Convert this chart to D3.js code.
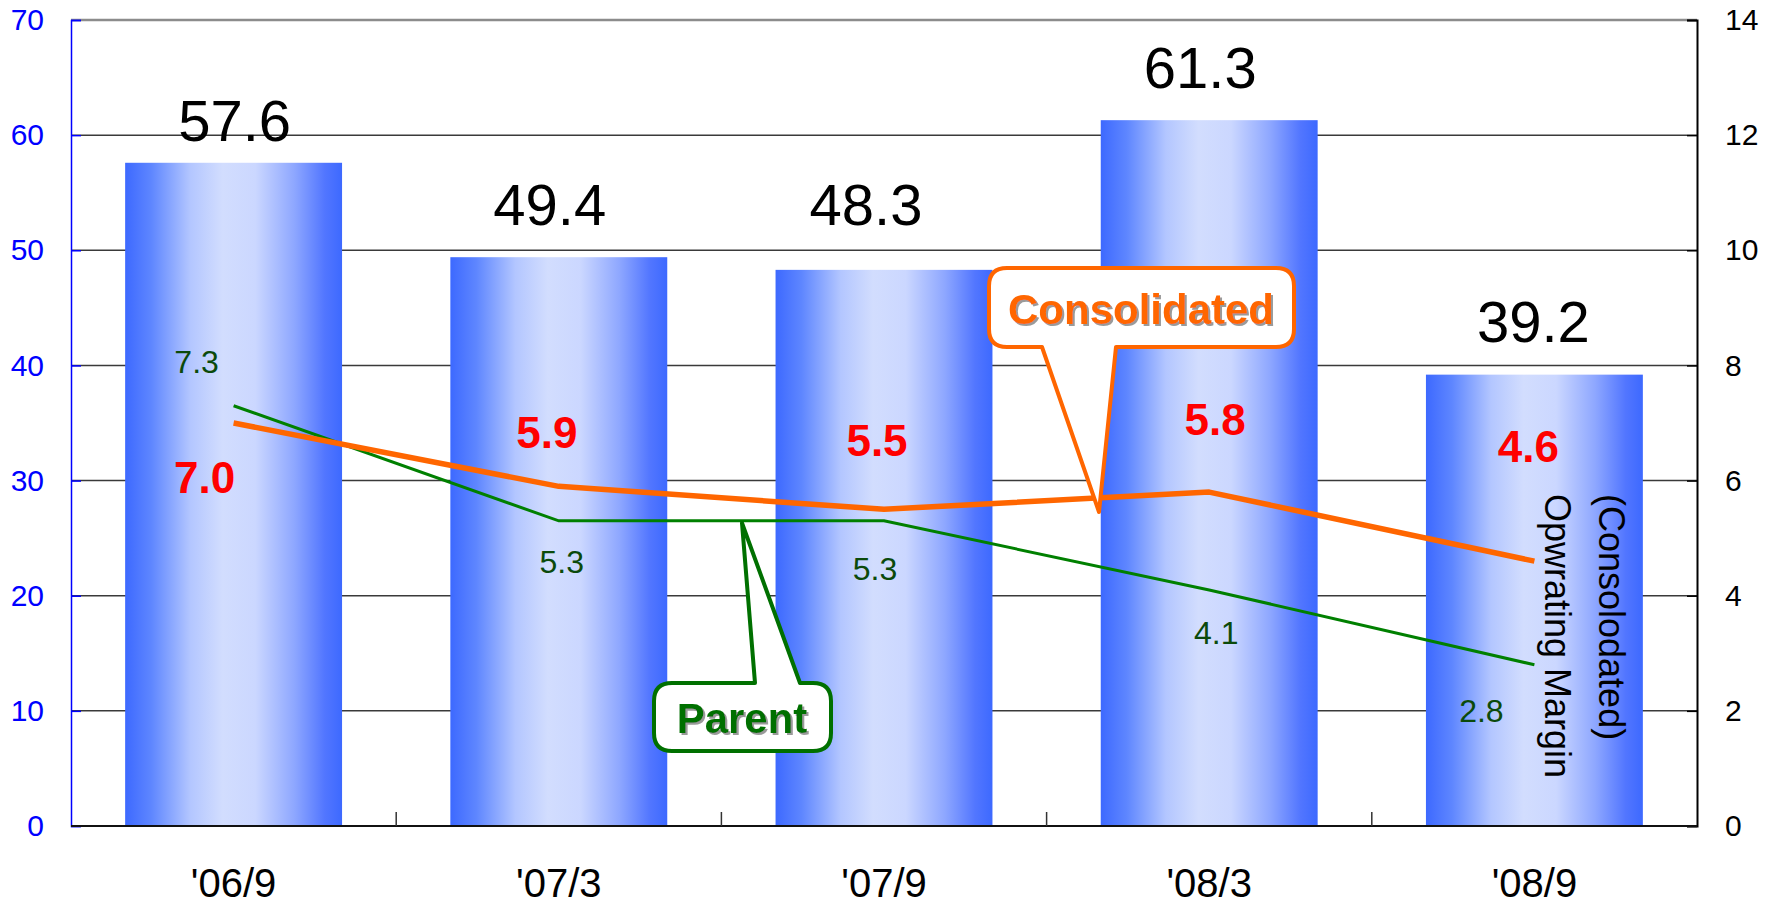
<!DOCTYPE html>
<html><head><meta charset="utf-8">
<script src="https://cdn.jsdelivr.net/npm/d3@7"></script>
<style>html,body{margin:0;padding:0;background:#fff;}svg{display:block;font-family:"Liberation Sans",Arial,sans-serif;}</style>
</head><body>
<svg id="c" width="1782" height="906"></svg>
<script>
const categories = ["'06/9", "'07/3", "'07/9", "'08/3", "'08/9"];
const barValues = [57.6, 49.4, 48.3, 61.3, 39.2];
const consolidated = [7.0, 5.9, 5.5, 5.8, 4.6];
const parent = [7.3, 5.3, 5.3, 4.1, 2.8];
const leftTicks = [0, 10, 20, 30, 40, 50, 60, 70];
const rightTicks = [0, 2, 4, 6, 8, 10, 12, 14];

const svg = d3.select("#c");
const L = 71, R = 1697, T = 20, B = 826;

const x = d3.scaleBand().domain(categories).range([L, R]).paddingInner(0.333).paddingOuter(0.1665);
const yL = d3.scaleLinear().domain([0, 70]).range([B, T]);
const yR = d3.scaleLinear().domain([0, 14]).range([B, T]);
const cx = c => x(c) + x.bandwidth() / 2;

// gradient
const defs = svg.append("defs");
const g = defs.append("linearGradient").attr("id", "barGrad").attr("x1", "0").attr("x2", "1").attr("y1", "0").attr("y2", "0");
[[0, "#3D69FF"], [0.12, "#5E86FF"], [0.3, "#B3C6FF"], [0.45, "#D2DDFE"], [0.6, "#CBD7FF"], [0.78, "#8EA7FF"], [0.92, "#5276FF"], [1, "#3D69FF"]]
  .forEach(([o, c]) => g.append("stop").attr("offset", o).attr("stop-color", c));
const sh = defs.append("filter").attr("id", "shadow").attr("x", "-10%").attr("y", "-10%").attr("width", "130%").attr("height", "130%");
sh.append("feDropShadow").attr("dx", 2).attr("dy", 2).attr("stdDeviation", 0.6).attr("flood-color", "#9a9a9a").attr("flood-opacity", 1);

// gridlines
svg.append("g").selectAll("line").data(leftTicks.filter(t => t > 0 && t < 70)).join("line")
  .attr("x1", L).attr("x2", R).attr("y1", d => yL(d)).attr("y2", d => yL(d))
  .attr("stroke", "#3a3a3a").attr("stroke-width", 1.5);
svg.append("line").attr("x1", L).attr("x2", R).attr("y1", yL(70)).attr("y2", yL(70)).attr("stroke", "#8c8c8c").attr("stroke-width", 2.5);

// bars
svg.append("g").selectAll("rect").data(barValues).join("rect")
  .attr("x", (d, i) => x(categories[i])).attr("width", x.bandwidth())
  .attr("y", d => yL(d)).attr("height", d => yL(0) - yL(d))
  .attr("fill", "url(#barGrad)");

// axes
const leftAxis = d3.axisLeft(yL).tickValues(leftTicks).tickSize(-10).tickPadding(27);
const gl = svg.append("g").attr("transform", `translate(${L},0)`).call(leftAxis);
gl.select(".domain").attr("stroke", "#0000ff").attr("stroke-width", 1.5);
gl.selectAll(".tick line").attr("stroke", "#0000ff").attr("stroke-width", 1.5);
gl.selectAll("text").attr("fill", "#0000ff").attr("font-size", 30).attr("font-family", "Liberation Sans");

const rightAxis = d3.axisRight(yR).tickValues(rightTicks).tickSize(-10).tickPadding(28);
const gr = svg.append("g").attr("transform", `translate(${R},0)`).call(rightAxis);
gr.select(".domain").attr("stroke", "#000").attr("stroke-width", 2);
gr.selectAll(".tick line").attr("stroke", "#000").attr("stroke-width", 1.5);
gr.selectAll("text").attr("fill", "#000").attr("font-size", 30).attr("font-family", "Liberation Sans");

// bottom axis
svg.append("line").attr("x1", L).attr("x2", R).attr("y1", B).attr("y2", B).attr("stroke", "#111").attr("stroke-width", 2);
const bounds = categories.slice(1).map(c => x(c) - x.step() * x.paddingInner() / 2);
svg.append("g").selectAll("line").data(bounds).join("line")
  .attr("x1", d => d).attr("x2", d => d).attr("y1", B).attr("y2", B - 14)
  .attr("stroke", "#333").attr("stroke-width", 1.5);
svg.append("g").selectAll("text").data(categories).join("text")
  .attr("x", d => cx(d)).attr("y", 897).attr("text-anchor", "middle")
  .attr("font-size", 40).attr("fill", "#000").text(d => d);

// bar value labels
const barNudge = [[1, 11], [-9, 0], [-18, -12], [-9, 0], [-1, 0]];
svg.append("g").selectAll("text").data(barValues).join("text")
  .attr("x", (d, i) => cx(categories[i]) + barNudge[i][0]).attr("y", (d, i) => yL(d) - 53 + barNudge[i][1])
  .attr("dominant-baseline", "central").attr("text-anchor", "middle")
  .attr("font-size", 58).attr("fill", "#000").text(d => d.toFixed(1));

// lines
const lineR = d3.line().x((d, i) => cx(categories[i])).y(d => yR(d));
svg.append("path").datum(parent).attr("d", lineR).attr("fill", "none").attr("stroke", "#008000").attr("stroke-width", 3);
svg.append("path").datum(consolidated).attr("d", lineR).attr("fill", "none").attr("stroke", "#FF6600").attr("stroke-width", 5.5).attr("stroke-linejoin", "round");

// line labels
const consNudge = [[-29, 54], [-12, -54], [-7, -69], [6, -73], [-6, -115]];
const parNudge = [[-37, -44], [3, 41], [-9, 48], [7, 43], [-53, 46]];
svg.append("g").selectAll("text").data(consolidated).join("text")
  .attr("x", (d, i) => cx(categories[i]) + consNudge[i][0]).attr("y", (d, i) => yR(d) + consNudge[i][1])
  .attr("dominant-baseline", "central").attr("text-anchor", "middle")
  .attr("font-size", 44).attr("font-weight", "bold").attr("fill", "#FF0000").text(d => d.toFixed(1));
svg.append("g").selectAll("text").data(parent).join("text")
  .attr("x", (d, i) => cx(categories[i]) + parNudge[i][0]).attr("y", (d, i) => yR(d) + parNudge[i][1])
  .attr("dominant-baseline", "central").attr("text-anchor", "middle")
  .attr("font-size", 32).attr("fill", "#0B4A0B").text(d => d.toFixed(1));

// callouts
function callout(box, tip, baseL, baseR, color, label, fs, tx, ty) {
  const r = 18;
  const { x0, y0, x1, y1 } = box;
  const p = d3.path();
  const pointerOnBottom = tip[1] > y1;
  p.moveTo(x0 + r, y0);
  if (!pointerOnBottom) { p.lineTo(baseL, y0); p.lineTo(tip[0], tip[1]); p.lineTo(baseR, y0); }
  p.lineTo(x1 - r, y0);
  p.quadraticCurveTo(x1, y0, x1, y0 + r);
  p.lineTo(x1, y1 - r);
  p.quadraticCurveTo(x1, y1, x1 - r, y1);
  if (pointerOnBottom) { p.lineTo(baseR, y1); p.lineTo(tip[0], tip[1]); p.lineTo(baseL, y1); }
  p.lineTo(x0 + r, y1);
  p.quadraticCurveTo(x0, y1, x0, y1 - r);
  p.lineTo(x0, y0 + r);
  p.quadraticCurveTo(x0, y0, x0 + r, y0);
  p.closePath();
  svg.append("path").attr("d", p.toString()).attr("fill", "#fff").attr("stroke", color).attr("stroke-width", 4).attr("stroke-linejoin", "round");
  svg.append("text").attr("x", tx).attr("y", ty).attr("text-anchor", "middle")
    .attr("font-size", fs).attr("font-weight", "bold").attr("fill", color).attr("filter", "url(#shadow)").text(label);
}
callout({ x0: 989, y0: 268, x1: 1294, y1: 347 }, [1099, 512], 1042, 1116, "#FF6600", "Consolidated", 42, 1141, 324);
callout({ x0: 654, y0: 683, x1: 831, y1: 751 }, [742, 523], 755, 800, "#007000", "Parent", 42, 742, 733);

// right axis title (rotated)
const title = svg.append("g").attr("font-size", 36).attr("fill", "#000");
title.append("text").attr("transform", "translate(1599,494) rotate(90)").text("(Consolodated)");
title.append("text").attr("transform", "translate(1545,494) rotate(90)").text("Opwrating Margin");
</script>
</body></html>
